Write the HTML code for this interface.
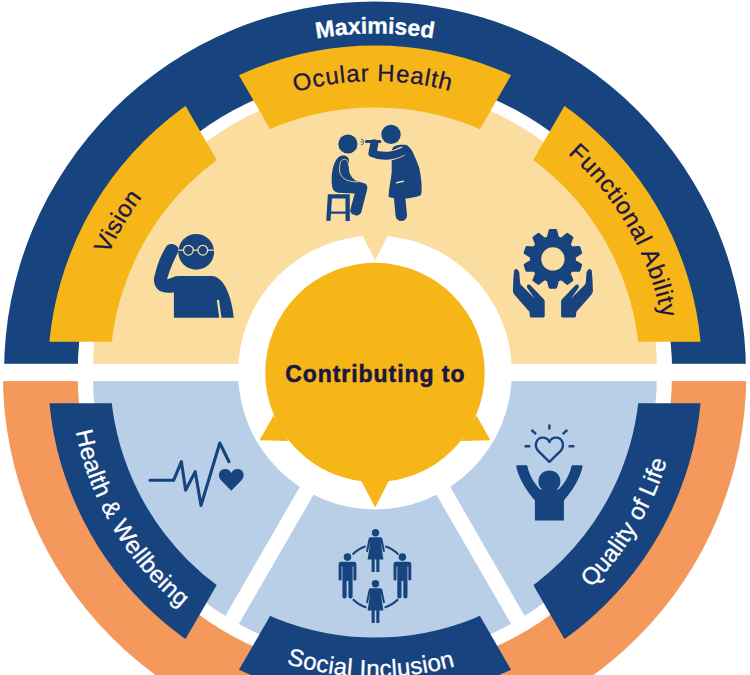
<!DOCTYPE html>
<html>
<head>
<meta charset="utf-8">
<title>Maximised vision contributing to wellbeing</title>
<style>
html,body{margin:0;padding:0;background:#fff;}
body{width:750px;height:675px;overflow:hidden;font-family:"Liberation Sans",sans-serif;}
svg{display:block;}
text{font-family:"Liberation Sans",sans-serif;}
</style>
</head>
<body>
<svg width="750" height="675" viewBox="0 0 750 675">
<defs>
  <!-- mask cutting the label bands with three strips through the centre -->
  <mask id="bandmask" maskUnits="userSpaceOnUse" x="0" y="0" width="750" height="750">
    <rect x="0" y="0" width="750" height="750" fill="#fff"/>
    <g stroke="#000" stroke-width="61.6" fill="none">
      <line x1="-50" y1="372.5" x2="800" y2="372.5"/>
      <line x1="375" y1="372.5" x2="175" y2="26.1"/>
      <line x1="375" y1="372.5" x2="575" y2="26.1"/>
      <line x1="375" y1="372.5" x2="175" y2="718.9"/>
      <line x1="375" y1="372.5" x2="575" y2="718.9"/>
    </g>
  </mask>
  <clipPath id="tophalf"><rect x="0" y="0" width="750" height="372.5"/></clipPath>
  <clipPath id="bothalf"><rect x="0" y="372.5" width="750" height="320"/></clipPath>
</defs>
<rect width="750" height="675" fill="#fff"/>

<!-- outer ring -->
<g id="outer-ring">
  <g clip-path="url(#tophalf)">
    <circle cx="375" cy="372.5" r="371" fill="#17447f"/>
    <circle cx="374.9" cy="371.7" r="297.2" fill="#fff"/>
  </g>
  <g clip-path="url(#bothalf)">
    <circle cx="374.6" cy="374.7" r="371.7" fill="#f4995b"/>
    <circle cx="374.8" cy="375.2" r="297.1" fill="#fff"/>
  </g>
</g>

<!-- inner sectors -->
<g id="sectors">
  <g clip-path="url(#tophalf)"><circle cx="374.9" cy="367.9" r="281.9" fill="#fbdda0"/></g>
  <g clip-path="url(#bothalf)"><circle cx="374.9" cy="377.1" r="281.9" fill="#b9cfe8"/></g>
</g>

<!-- white separators -->
<g id="separators" stroke="#fff" stroke-width="15.8" fill="none">
  <line x1="375" y1="372.5" x2="230" y2="623.6"/>
  <line x1="375" y1="372.5" x2="520" y2="623.6"/>
</g>
<rect id="hgap" x="0" y="363.8" width="750" height="17.3" fill="#fff"/>

<!-- label bands -->
<g id="bands" fill="none" stroke-width="62" mask="url(#bandmask)">
  <circle cx="375" cy="372.5" r="296" stroke="#f7b618" clip-path="url(#tophalf)"/>
  <circle cx="375" cy="372.5" r="296" stroke="#17447f" clip-path="url(#bothalf)"/>
</g>

<!-- centre -->
<g id="centre">
  <circle cx="375" cy="372.5" r="136.9" fill="#fff"/>
  <polygon points="360.6,232 389.4,232 375.2,260.6" fill="#fbdda0"/>
  <circle cx="375" cy="372.5" r="109.7" fill="#f7b618"/>
  <polygon points="273.6,415.6 259.5,440.2 288.8,441" fill="#f7b618"/>
  <polygon points="476.4,415.6 490.5,440.2 461.2,441" fill="#f7b618"/>
  <polygon points="360.6,480 389.4,480 375.2,507.2" fill="#f7b618"/>
</g>

<!--ICONS-->
<g id="icon-vision" fill="#17447f">
  <circle cx="196.2" cy="251.8" r="17.9"/>
  <path d="M173.9,317.8 L173.9,288 L177.5,275.9 L211.7,275.9 C224,276.5 231.5,296 233.7,317.8 Z"/>
  <path d="M171.2,244.1 C175.6,244.1 179.4,247.2 178.4,251.2 C175.6,257 170,268 167,279.6 L177,275.8 L177,292 L174.1,292.2 C168,293.6 160.5,292.8 157.4,289.1 C153.2,284.4 153.4,278 155.1,274 C157,265 161,255 165.6,247.4 C167,245 169,244.1 171.2,244.1 Z"/>
  <path d="M217.9,299.9 L220.4,318.2" fill="none" stroke="#fbdda0" stroke-width="2.2"/>
  <g fill="none" stroke="#fbdda0" stroke-width="1.3">
    <circle cx="188.4" cy="250.2" r="4.85"/>
    <circle cx="202.8" cy="250.2" r="4.85"/>
    <path d="M178.3,250.2 H183.6 M193.2,250.2 H198 M207.6,250.2 H214.2"/>
  </g>
</g>

<g id="icon-ocular" fill="#17447f" stroke-linecap="round" stroke-linejoin="round">
  <!-- stool -->
  <path d="M328.4,220.9 L329.9,196.3 L347.6,196.3 L347.7,220.9" fill="none" stroke="#17447f" stroke-width="4.3" stroke-linecap="butt" stroke-linejoin="miter"/>
  <path d="M329.5,212.6 H348" fill="none" stroke="#17447f" stroke-width="2.4"/>
  <!-- patient -->
  <circle cx="347.9" cy="144" r="9.6"/>
  <path d="M342.3,155.6 C346,155.3 348.9,157 348.9,160.5 L348.9,170 C350,176 354,180.5 358,181.5 L363.5,183 C367,184 368,187 367,190 L361.3,212 C360.3,215.5 356.5,216 354,214.8 C350.5,213.5 349.8,211.5 350.5,209 L354.7,193.4 L338,192.7 C334,192 332,189 332,185 C331,178 332,168 335,162 C337,158 339.5,155.8 342.3,155.6 Z"/>
  <path d="M339.6,171 C339.4,161.5 341,159.6 344.4,159.4 C347.6,159.4 348.5,162 348.5,166 M339.6,171 C341,178 345.5,181.8 358,182" fill="none" stroke="#fbdda0" stroke-width="0.8"/>
  <!-- doctor -->
  <circle cx="391" cy="134.4" r="9.7"/>
  <path d="M394.9,145.9 C398,144.6 403,144.3 406.7,145.1 C410.5,147.5 413,152 414.5,156.1 C417.5,163 419.5,168 420,171.8 C421.5,180 421.8,187 421.6,192.2 L420.8,195.3 C415,197.5 410,198.3 405.1,198.5 C399,198.6 393,198 388.6,196.9 C388.8,193 389,190 389.4,187.5 C390.5,181 391.4,176 391.7,171.8 L391.7,151.4 C391.9,148.5 393,146.8 394.9,145.9 Z"/>
  <path d="M399.6,198 L401.3,215.4" fill="none" stroke="#17447f" stroke-width="11.4"/>
  <path d="M401.6,151.6 Q386,159.4 372.6,153.4" fill="none" stroke="#fbdda0" stroke-width="9.8"/>
  <path d="M404,151 Q386,159.4 372.4,153.2 L374.4,143.4" fill="none" stroke="#17447f" stroke-width="8"/>
  <path d="M366.4,141.6 H379.8" fill="none" stroke="#17447f" stroke-width="3"/>
  <path d="M361.4,139.2 L363.8,140.4 M361,142 H363.6 M361.4,144.8 L363.8,143.6" fill="none" stroke="#17447f" stroke-width="0.8"/>
  <path d="M396.6,182.8 L403.4,181.3" fill="none" stroke="#fbdda0" stroke-width="1.4"/>
</g>

<g id="icon-function" fill="#17447f">
  <path d="M548.2,237.8 L550.1,230.6 L555.7,230.6 L557.6,237.8 L561.5,239.1 L567.3,234.4 L571.8,237.7 L569.1,244.6 L571.5,247.9 L578.9,247.5 L580.6,252.8 L574.4,256.8 L574.4,261.0 L580.6,265.0 L578.9,270.3 L571.5,269.9 L569.1,273.2 L571.8,280.1 L567.3,283.4 L561.5,278.7 L557.6,280.0 L555.7,287.2 L550.1,287.2 L548.2,280.0 L544.3,278.7 L538.5,283.4 L534.0,280.1 L536.7,273.2 L534.3,269.9 L526.9,270.3 L525.2,265.0 L531.4,261.0 L531.4,256.8 L525.2,252.8 L526.9,247.5 L534.3,247.9 L536.7,244.6 L534.0,237.7 L538.5,234.4 L544.3,239.1Z" stroke="#17447f" stroke-width="3" stroke-linejoin="round"/>
  <circle cx="552.9" cy="258.9" r="11.7" fill="#fbdda0"/>
  <g id="hand">
    <path d="M516,268.9 C517.5,268.9 519.2,271 519.4,273.6 L520,282.5 C520.3,284 521,285 522.2,286 L534.7,298.5 L527.1,287.8 C526.5,286 527.3,284.7 528.5,284.6 C529.2,284.5 529.8,284.7 530.4,285.2 L543.1,298.5 C544.3,299.6 544.7,300.8 544.7,302 L544.7,315.4 C544.7,316.8 544.2,317.6 543,317.6 L531.8,317.6 C530.6,317.6 529.9,316.8 529.8,315.4 L529.4,311.8 L514.7,294.9 C513.4,293.4 512.9,292 512.9,290.5 L513.3,279.8 L514,270.9 C514.2,269.6 515,268.9 516,268.9 Z"/>
  </g>
  <use href="#hand" transform="translate(1105.8,0) scale(-1,1)"/>
</g>

<g id="icon-health" fill="#17447f">
  <path d="M150,480.2 H173.7 L181.4,461.7 L185.6,490.3 L195.2,471.7 L201,505.5 L219.8,443 L229,461.7" fill="none" stroke="#17447f" stroke-width="3.1" stroke-linecap="round" stroke-linejoin="round"/>
  <path d="M231.3,490.8 L221.3,480.6 C216.6,475.6 219.4,469 225.2,469 C228.4,469 230.4,470.8 231.3,473 C232.2,470.8 234.2,469 237.4,469 C243.2,469 246,475.6 241.3,480.6 Z"/>
</g>

<g id="icon-social" fill="#17447f">
  <path d="M352.6,554.4 A32,32 0 0 1 365.7,546.2 M385.3,546.2 A32,32 0 0 1 398.4,554.4 M352.9,599.3 A32,32 0 0 0 366.4,607.4 M384.6,607.4 A32,32 0 0 0 398.1,599.3" fill="none" stroke="#17447f" stroke-width="2.1"/>
  <g id="woman">
    <circle cx="375.5" cy="532.7" r="3.7"/>
    <path d="M370.4,537.2 H380.6 Q382,537.2 382.4,538.8 L385,551.6 L383.2,552.2 L380.6,541.5 L383.4,559.4 H379.4 V572 H376.3 V559.4 H374.7 V572 H371.6 V559.4 H367.6 L370.4,541.5 L367.8,552.2 L366,551.6 L368.6,538.8 Q369,537.2 370.4,537.2 Z"/>
  </g>
  <use href="#woman" transform="translate(0,51.1)"/>
  <g id="man">
    <circle cx="347.5" cy="557.1" r="3.8"/>
    <path d="M341,561.8 H354 Q356.4,561.8 356.4,564.2 V579.2 Q356.4,580.6 354.9,580.6 Q353.4,580.6 353.4,579.2 V566.5 H352.6 V596.6 Q352.6,598.5 350.5,598.5 Q348.4,598.5 348.4,596.6 V581 H346.6 V596.6 Q346.6,598.5 344.5,598.5 Q342.4,598.5 342.4,596.6 V566.5 H341.6 V579.2 Q341.6,580.6 340.1,580.6 Q338.6,580.6 338.6,579.2 V564.2 Q338.6,561.8 341,561.8 Z"/>
  </g>
  <use href="#man" transform="translate(54.9,0)"/>
</g>

<g id="icon-quality" fill="#17447f">
  <circle cx="549.4" cy="481.4" r="11"/>
  <path d="M534.9,520.6 V500.4 C526,490 518.5,478 516.2,466.4 Q516.2,465.3 517.4,465.3 H526.2 Q527.3,465.3 527.5,466.4 C529,474 533.5,482.5 540,489.3 L549.4,492 L558.8,489.3 C565.3,482.5 569.8,474 571.3,466.4 Q571.5,465.3 572.6,465.3 H581.4 Q582.6,465.3 582.6,466.4 C580.3,478 572.8,490 563.9,500.4 V520.6 Z"/>
  <g fill="none" stroke="#17447f" stroke-width="2.4" stroke-linecap="butt">
    <path d="M549.4,461.9 L538.4,451.2 C533.6,446 536.2,437.6 542.6,437.6 C546,437.6 548.4,439.4 549.4,442 C550.4,439.4 552.8,437.6 556.2,437.6 C562.6,437.6 565.2,446 560.4,451.2 Z" stroke-linejoin="round"/>
    <path d="M549.4,424.4 V429.6 M531.5,430 L536.1,434.1 M567.3,430 L562.7,434.1 M524.6,446.2 H530.3 M568.6,446.2 H574.3"/>
  </g>
</g>

<!--TEXT-->
<defs>
  <path id="cw339" d="M375,711.5 A339,339 0 1 1 375,33.5 A339,339 0 1 1 375,711.5"/>
  <path id="cw291" d="M375,663.9 A291.4,291.4 0 1 1 375,81.1 A291.4,291.4 0 1 1 375,663.9"/>
  <path id="ccw305" d="M375,67.5 A305,305 0 1 0 375,677.5 A305,305 0 1 0 375,67.5"/>
  <path id="ccw304" d="M375,68.1 A304.4,304.4 0 1 0 375,676.9 A304.4,304.4 0 1 0 375,68.1"/>
</defs>
<g id="labels" text-anchor="middle" font-size="24" stroke-linejoin="round">
  <text fill="#fff" stroke="#fff" stroke-width="0.3" font-weight="bold" font-size="23"><textPath href="#cw339" startOffset="50%">Maximised</textPath></text>
  <text fill="#1c1742" stroke="#1c1742" stroke-width="0.3" letter-spacing="0.85"><textPath href="#cw291" startOffset="49.88%">Ocular Health</textPath></text>
  <text fill="#1c1742" stroke="#1c1742" stroke-width="0.3" letter-spacing="0.3"><textPath href="#cw291" startOffset="33.46%">Vision</textPath></text>
  <text fill="#1c1742" stroke="#1c1742" stroke-width="0.3" letter-spacing="0.69"><textPath href="#cw291" startOffset="66.76%">Functional Ability</textPath></text>
  <text fill="#fff" stroke="#fff" stroke-width="0.3" letter-spacing="0.3"><textPath href="#ccw305" startOffset="33.56%">Health &amp; Wellbeing</textPath></text>
  <text fill="#fff" stroke="#fff" stroke-width="0.3" letter-spacing="0.3"><textPath href="#ccw304" startOffset="49.78%">Social Inclusion</textPath></text>
  <text fill="#fff" stroke="#fff" stroke-width="0.3" letter-spacing="0.19"><textPath href="#ccw305" startOffset="66.42%">Quality of Life</textPath></text>
  <text x="375.3" y="381.5" fill="#1c1742" stroke="#1c1742" stroke-width="0.55" font-weight="bold" font-size="23" letter-spacing="0.95">Contributing to</text>
</g>
</svg>
</body>
</html>
